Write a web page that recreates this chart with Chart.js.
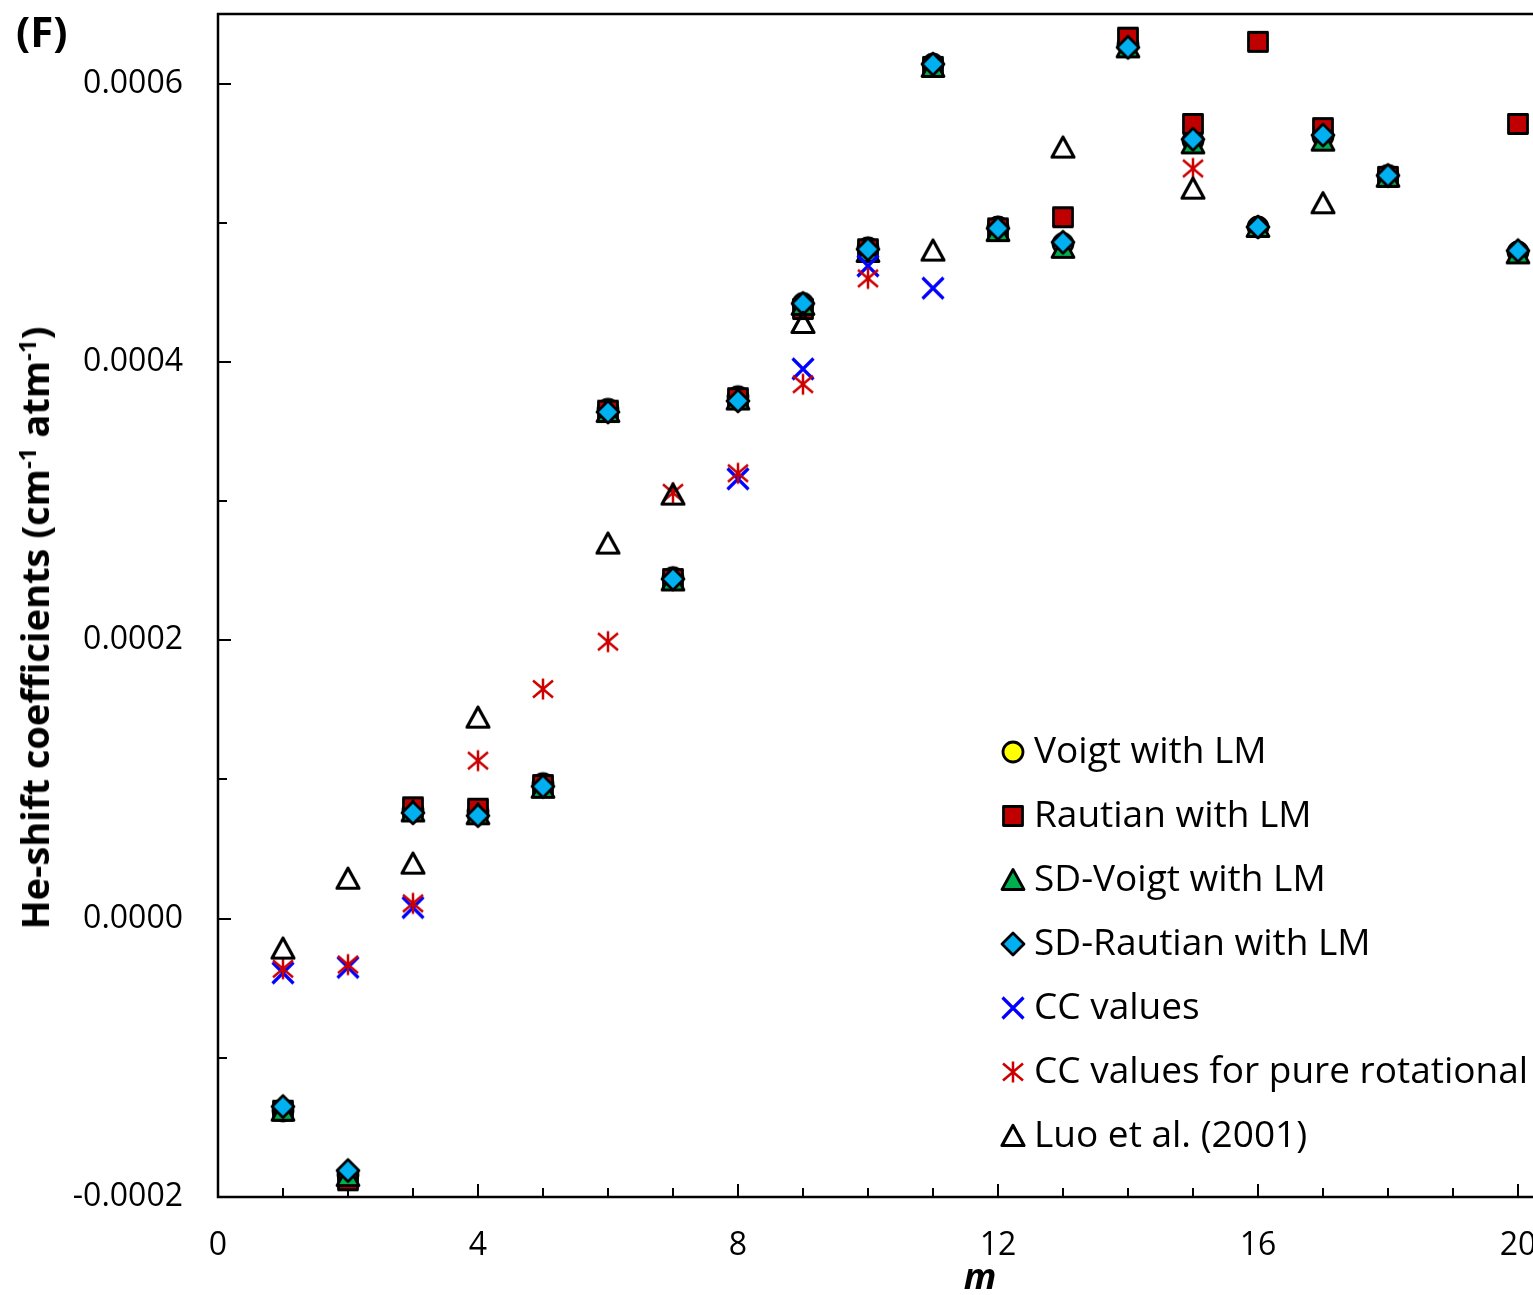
<!DOCTYPE html>
<html>
<head>
<meta charset="utf-8">
<title>He-shift coefficients</title>
<script src="https://cdn.jsdelivr.net/npm/chart.js@4.4.1/dist/chart.umd.min.js"></script>
<style>
html,body{margin:0;padding:0;background:#fff;overflow:hidden;}
#wrap{position:relative;width:1533px;height:1295px;overflow:hidden;}
#box{position:absolute;left:0;top:0;width:1680px;height:1295px;}
.lbl{position:absolute;font-family:"Open Sans",sans-serif;color:#000;white-space:nowrap;line-height:1;}
#panel{left:16px;top:10px;font-size:42px;font-weight:bold;}
#ytitle{left:34px;top:628px;font-size:38px;font-weight:bold;transform:translate(-50%,-50%) rotate(-90deg);}
#ytitle sup{font-size:24px;vertical-align:0.55em;line-height:0;}
#xtitle{left:980px;top:1258px;font-size:36px;font-weight:bold;font-style:italic;transform:translateX(-50%);}
</style>
</head>
<body>
<div id="wrap">
  <div id="box"><canvas id="chart" width="1680" height="1295"></canvas></div>
  <div class="lbl" id="panel">(F)</div>
  <div class="lbl" id="ytitle">He-shift coefficients (cm<sup>-1</sup> atm<sup>-1</sup>)</div>
  <div class="lbl" id="xtitle">m</div>
</div>
<script>
// ---------- data ----------
const mValues = [1,2,3,4,5,6,7,8,9,10,11,12,13,14,15,16,17,18,19,20];

const voigtLM = [-0.000138,-0.000184,0.000078,0.000077,0.000097,0.000366,0.000245,0.000375,0.000442,0.000482,
                 0.000614,0.000497,0.000485,0.000628,0.000559,0.000497,0.000562,0.000534,null,0.000479];
const rautianLM = [-0.000138,-0.000188,0.000080,0.000079,0.000096,0.000365,0.000244,0.000374,0.000438,0.000481,
                   0.000612,0.000496,0.000504,0.000633,0.000571,0.000630,0.000568,0.000533,null,0.000571];
const sdVoigtLM = [-0.000138,-0.000185,0.000077,0.000075,0.000094,0.000364,0.000243,0.000373,0.000441,0.000479,
                   0.000612,0.000494,0.000482,0.000626,0.000557,0.000497,0.000559,0.000533,null,0.000478];
const sdRautianLM = [-0.000135,-0.000181,0.000076,0.000074,0.000095,0.000364,0.000244,0.000372,0.000442,0.000481,
                     0.000614,0.000496,0.000486,0.000626,0.000560,0.000497,0.000563,0.000534,null,0.000480];
const ccValues = [-0.000039,-0.000035,0.000008,null,null,null,null,0.000316,0.000395,0.000469,
                  0.000453,null,null,null,null,null,null,null,null,null];
const ccPureRot = [-0.000036,-0.000033,0.000011,0.0001135,0.000165,0.000199,0.000306,0.000320,0.000384,0.000460,
                   null,null,null,null,0.000539,null,null,null,null,null];
const luo2001 = [-0.0000215,0.0000287,0.0000395,0.0001444,null,0.0002695,0.0003047,null,0.000428,null,
                 0.000480,null,0.000554,null,0.0005245,null,0.000514,null,null,null];

const seriesNames = ['Voigt with LM','Rautian with LM','SD-Voigt with LM','SD-Rautian with LM',
                     'CC values','CC values for pure rotational','Luo et al. (2001)'];

// ---------- marker images (Excel-like) ----------
function marker(draw){
  const c = document.createElement('canvas');
  c.width = 30; c.height = 30;
  const g = c.getContext('2d');
  g.translate(15,15);
  g.lineJoin = 'round';
  draw(g);
  return c;
}
const mkCircle = marker(g=>{ g.beginPath(); g.arc(0,0,10,0,Math.PI*2); g.fillStyle='#FFFF00'; g.fill(); g.lineWidth=2.8; g.strokeStyle='#000'; g.stroke(); });
const mkSquare = marker(g=>{ g.beginPath(); g.rect(-9.5,-9.5,19,19); g.fillStyle='#C00000'; g.fill(); g.lineWidth=2.8; g.strokeStyle='#000'; g.stroke(); });
const mkTriG = marker(g=>{ g.beginPath(); g.moveTo(0,-10.5); g.lineTo(11,9.5); g.lineTo(-11,9.5); g.closePath(); g.fillStyle='#00B050'; g.fill(); g.lineWidth=2.8; g.strokeStyle='#000'; g.stroke(); });
const mkDiamond = marker(g=>{ g.beginPath(); g.moveTo(0,-11); g.lineTo(11,0); g.lineTo(0,11); g.lineTo(-11,0); g.closePath(); g.fillStyle='#00B0F0'; g.fill(); g.lineWidth=2.8; g.strokeStyle='#000'; g.stroke(); });
const mkX = marker(g=>{ g.beginPath(); g.moveTo(-10.5,-10.5); g.lineTo(10.5,10.5); g.moveTo(10.5,-10.5); g.lineTo(-10.5,10.5); g.lineWidth=3.2; g.strokeStyle='#0000FF'; g.stroke(); });
const mkStar = marker(g=>{ g.beginPath(); g.moveTo(0,-10.5); g.lineTo(0,10.5); g.moveTo(-10,-8.5); g.lineTo(10,8.5); g.moveTo(10,-8.5); g.lineTo(-10,8.5); g.lineWidth=2.5; g.strokeStyle='#CC0000'; g.stroke(); });
const mkTriW = marker(g=>{ g.beginPath(); g.moveTo(0,-10.5); g.lineTo(11,9.5); g.lineTo(-11,9.5); g.closePath(); g.lineWidth=3.2; g.strokeStyle='#000'; g.stroke(); });

const markers = [mkCircle, mkSquare, mkTriG, mkDiamond, mkX, mkStar, mkTriW];
const values = [voigtLM, rautianLM, sdVoigtLM, sdRautianLM, ccValues, ccPureRot, luo2001];

const datasets = values.map((vals,i)=>({
  label: seriesNames[i],
  data: mValues.map((m,j)=>({x:m, y:vals[j]})).filter(p=>p.y!==null),
  pointStyle: markers[i],
  pointRadius: 11,
  showLine: false,
  order: 7 - i          // later series drawn on top, as in the original
}));

// ---------- plugins ----------
const frame = {
  id:'frame',
  beforeDatasetsDraw(chart){
    const {ctx, chartArea:a, scales:{x,y}} = chart;
    ctx.save();
    ctx.strokeStyle = '#000';
    ctx.lineWidth = 2.5;
    ctx.beginPath();
    ctx.moveTo(a.right, a.top); ctx.lineTo(a.left, a.top);
    ctx.lineTo(a.left, a.bottom); ctx.lineTo(a.right, a.bottom);
    ctx.stroke();
    ctx.lineWidth = 2;
    ctx.beginPath();
    x.ticks.forEach(t=>{
      if (t.value <= 0) return;
      const px = Math.round(x.getPixelForValue(t.value));
      const len = t.value % 4 === 0 ? 13 : 9;
      ctx.moveTo(px, a.bottom); ctx.lineTo(px, a.bottom - len);
    });
    y.ticks.forEach(t=>{
      const k = Math.round(t.value / 0.0001);
      if (Math.abs(t.value - k*0.0001) > 1e-9) return;
      if (t.value <= y.min) return;
      const py = Math.round(y.getPixelForValue(t.value));
      const len = k % 2 === 0 ? 13 : 9;
      ctx.moveTo(a.left, py); ctx.lineTo(a.left + len, py);
    });
    ctx.stroke();
    ctx.restore();
  }
};

const innerLegend = {
  id:'innerLegend',
  afterDraw(chart){
    const {ctx} = chart;
    ctx.save();
    ctx.font = '37px "Open Sans", sans-serif';
    ctx.fillStyle = '#000';
    ctx.textBaseline = 'middle';
    chart.data.datasets.forEach((ds,i)=>{
      const cy = 752 + i*64;
      const img = ds.pointStyle;
      ctx.drawImage(img, 1013 - img.width/2, cy - img.height/2);
      ctx.fillText(ds.label, 1034, cy);
    });
    ctx.restore();
  }
};

// ---------- chart ----------
const tickFont = {family:'"Open Sans", sans-serif', size:32};

new Chart(document.getElementById('chart'), {
  type:'scatter',
  data:{ datasets },
  options:{
    responsive:false,
    animation:false,
    layout:{ padding:{ top:14, right:32, left:0, bottom:0 } },
    plugins:{ legend:{display:false}, tooltip:{enabled:false} },
    scales:{
      x:{
        type:'linear', min:0, max:22,
        grid:{display:false, drawTicks:false},
        border:{display:false},
        ticks:{
          stepSize:1, autoSkip:false, maxRotation:0, color:'#000', font:tickFont, padding:30,
          callback:v => (v % 4 === 0 && v <= 20) ? String(v) : ''
        },
        afterFit:s => { s.height = 98; s.paddingLeft = 0; s.paddingRight = 0; }
      },
      y:{
        type:'linear', min:-0.0002, max:0.00065,
        grid:{display:false, drawTicks:false},
        border:{display:false},
        ticks:{
          stepSize:0.0001, autoSkip:false, color:'#000', font:tickFont, padding:35,
          callback:v => {
            const k = Math.round(v / 0.0001);
            if (Math.abs(v - k*0.0001) > 1e-9 || k % 2) return '';
            return (k*0.0001).toFixed(4);
          }
        },
        afterFit:s => { s.width = 218; s.paddingTop = 0; s.paddingBottom = 0; }
      }
    }
  },
  plugins:[frame, innerLegend]
});
</script>
</body>
</html>
